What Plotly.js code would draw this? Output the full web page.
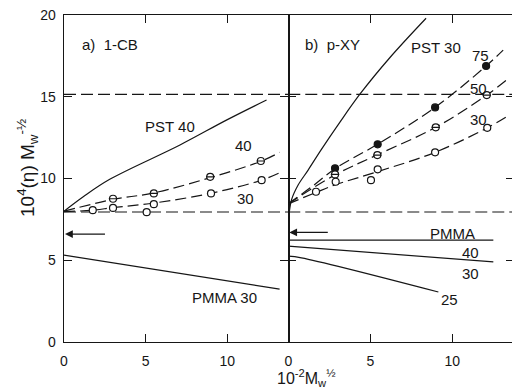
<!DOCTYPE html>
<html>
<head>
<meta charset="utf-8">
<script src="https://cdn.plot.ly/plotly-3.0.1.min.js"></script>
<style>
html,body{margin:0;padding:0;overflow:hidden;background:#fff;}
#chart{width:514px;height:390px;}
</style>
</head>
<body>
<div id="chart"></div>
<script>
// ---------- Data ----------
// Panel a) 1-CB
const a_pst40_x = [0, 1.2, 2.8, 7.1, 10.0, 12.4];
const a_pst40_y = [8.0, 8.9, 9.95, 12.05, 13.6, 14.8];

const a_s40_px = [3.0, 5.5, 8.95, 12.05];
const a_s40_py = [8.76, 9.09, 10.1, 11.07];
const a_s40_fx = [0, 3.0, 5.5, 8.95, 12.05, 13.2];
const a_s40_fy = [8.0, 8.72, 9.12, 10.05, 11.05, 11.6];

const a_s30_px = [1.76, 3.0, 5.06, 5.5, 9.0, 12.1];
const a_s30_py = [8.06, 8.2, 7.94, 8.43, 9.09, 9.9];
const a_s30_fx = [0, 1.76, 3.0, 5.5, 9.0, 12.1, 13.2];
const a_s30_fy = [7.98, 8.06, 8.22, 8.5, 9.1, 9.9, 10.35];

const a_pmma30_x = [0, 13.2];
const a_pmma30_y = [5.31, 3.23];

// Panel b) p-XY
const b_pst30_x = [0, 0.2, 0.6, 1.2, 2.0, 3.15, 4.4, 6.2, 8.4];
const b_pst30_y = [7.4, 8.7, 9.6, 10.5, 11.75, 13.45, 15.2, 17.4, 19.8];

const b_s75_px = [2.85, 5.45, 8.95, 12.06];
const b_s75_py = [10.62, 12.09, 14.35, 16.88];
const b_s75_fx = [0, 1.5, 2.85, 5.45, 8.95, 12.06, 13.1];
const b_s75_fy = [8.45, 9.55, 10.6, 12.1, 14.35, 16.88, 17.85];

const b_s50_px = [2.85, 5.43, 8.99, 12.1];
const b_s50_py = [10.25, 11.43, 13.13, 15.1];
const b_s50_fx = [0, 2.85, 5.43, 8.99, 12.1, 13.4];
const b_s50_fy = [8.45, 10.22, 11.45, 13.13, 15.1, 16.1];

const b_s30_px = [1.69, 2.89, 5.04, 5.45, 8.95, 12.13];
const b_s30_py = [9.19, 9.8, 9.9, 10.56, 11.6, 13.1];
const b_s30_fx = [0, 1.69, 2.89, 5.45, 8.95, 12.13, 13.5];
const b_s30_fy = [8.45, 9.15, 9.62, 10.42, 11.6, 13.1, 13.9];

const b_pmma40_x = [0, 12.5];
const b_pmma40_y = [6.23, 6.23];
const b_pmma30_x = [0, 12.5];
const b_pmma30_y = [5.86, 4.9];
const b_pmma25_x = [0, 0.8, 9.15];
const b_pmma25_y = [5.25, 5.15, 3.06];

// reference levels and arrows
const refLevels = [15.15, 7.95];
const xSpan = [0, 13.8];
const arrowA = {x0: 2.6, x1: 0, y: 6.6};
const arrowB = {x0: 2.5, x1: 0, y: 6.7};

// tick labels
const xTicks = [0, 5, 10];
const yTicks = [0, 5, 10, 15, 20];

// ---------- Styles ----------
const INK = '#161616';
const FONT = 'Liberation Sans, Arial, sans-serif';
const DASH = '11px,5px';
const MS = 7;

function line(x, y, xa, ya, dash) {
  return {x: x, y: y, xaxis: xa, yaxis: ya, mode: 'lines', type: 'scatter',
    line: {color: INK, width: 1.2, dash: dash || 'solid', shape: 'spline'},
    hoverinfo: 'skip'};
}
function pts(x, y, xa, ya, filled) {
  return {x: x, y: y, xaxis: xa, yaxis: ya, mode: 'markers', type: 'scatter',
    marker: {symbol: 'circle', size: MS, color: filled ? INK : '#fff',
             line: {color: INK, width: 1.2}}, hoverinfo: 'skip'};
}
function theta(x, y, xa, ya) {
  return [pts(x, y, xa, ya, false),
          {x: x, y: y, xaxis: xa, yaxis: ya, mode: 'markers', type: 'scatter',
           marker: {symbol: 'line-ew-open', size: MS - 1, color: INK,
                    line: {color: INK, width: 1.2}},
           hoverinfo: 'skip'}];
}

const traces = [];
// reference dashed levels
refLevels.forEach(function (lv) {
  traces.push(line(xSpan, [lv, lv], 'x', 'y', '12px,5px'));
  traces.push(line(xSpan, [lv, lv], 'x2', 'y2', '12px,5px'));
});
// panel a
traces.push(line(a_pst40_x, a_pst40_y, 'x', 'y'));
traces.push(line(a_s40_fx, a_s40_fy, 'x', 'y', DASH));
traces.push(line(a_s30_fx, a_s30_fy, 'x', 'y', DASH));
traces.push(line(a_pmma30_x, a_pmma30_y, 'x', 'y'));
theta(a_s40_px, a_s40_py, 'x', 'y').forEach(t => traces.push(t));
traces.push(pts(a_s30_px, a_s30_py, 'x', 'y', false));
// panel b
traces.push(line(b_pst30_x, b_pst30_y, 'x2', 'y2'));
traces.push(line(b_s75_fx, b_s75_fy, 'x2', 'y2', DASH));
traces.push(line(b_s50_fx, b_s50_fy, 'x2', 'y2', DASH));
traces.push(line(b_s30_fx, b_s30_fy, 'x2', 'y2', DASH));
traces.push(line(b_pmma40_x, b_pmma40_y, 'x2', 'y2'));
traces.push(line(b_pmma30_x, b_pmma30_y, 'x2', 'y2'));
traces.push(line(b_pmma25_x, b_pmma25_y, 'x2', 'y2'));
traces.push(pts(b_s75_px, b_s75_py, 'x2', 'y2', true));
theta(b_s50_px, b_s50_py, 'x2', 'y2').forEach(t => traces.push(t));
traces.push(pts(b_s30_px, b_s30_py, 'x2', 'y2', false));

const axisCommon = {
  showline: true, linecolor: INK, linewidth: 1.3, mirror: 'ticks',
  ticks: 'inside', ticklen: 8, tickwidth: 1.2, tickcolor: INK,
  showgrid: false, zeroline: false,
  tickfont: {family: FONT, size: 14, color: INK}
};

function lbl(text, x, y, xref, yref, size, xanchor) {
  return {text: text, x: x, y: y, xref: xref, yref: yref, showarrow: false,
    xanchor: xanchor || 'center', yanchor: 'middle',
    font: {family: FONT, size: size || 15, color: INK}};
}
function arrow(a, xref, yref) {
  return {x: a.x1, y: a.y, ax: a.x0, ay: a.y, xref: xref, yref: yref,
    axref: xref, ayref: yref, text: '', showarrow: true,
    arrowhead: 2, arrowsize: 1.3, arrowwidth: 1.2, arrowcolor: INK, standoff: 1};
}

const layout = {
  width: 514, height: 390,
  margin: {l: 64, r: 0, t: 15, b: 48},
  paper_bgcolor: '#fff', plot_bgcolor: '#fff',
  showlegend: false,
  xaxis: Object.assign({}, axisCommon, {domain: [0, 0.4984], range: [0, 13.73],
    tickvals: xTicks, ticktext: xTicks.map(String), anchor: 'y', ticklabelstandoff: 6}),
  xaxis2: Object.assign({}, axisCommon, {domain: [0.4984, 1], range: [0, 13.76],
    tickvals: xTicks, ticktext: xTicks.map(String), anchor: 'y2', ticklabelstandoff: 6}),
  yaxis: Object.assign({}, axisCommon, {range: [0, 20], tickvals: yTicks,
    ticktext: yTicks.map(String), anchor: 'x', ticklabelstandoff: 4}),
  yaxis2: Object.assign({}, axisCommon, {range: [0, 20], tickvals: yTicks,
    showline: false, showticklabels: false, anchor: 'x2'}),
  annotations: [
    lbl('a)  1-CB', 1.0, 18.2, 'x', 'y', 15, 'left'),
    lbl('PST 40', 6.5, 13.2, 'x', 'y'),
    lbl('40', 11.0, 12.0, 'x', 'y'),
    lbl('30', 11.1, 8.8, 'x', 'y'),
    lbl('PMMA 30', 9.8, 2.75, 'x', 'y'),
    lbl('b)  p-XY', 0.9, 18.2, 'x2', 'y2', 15, 'left'),
    lbl('PST 30', 9.0, 18.0, 'x2', 'y2'),
    lbl('75', 11.7, 17.55, 'x2', 'y2'),
    lbl('50', 11.6, 15.5, 'x2', 'y2'),
    lbl('30', 11.6, 13.6, 'x2', 'y2'),
    lbl('PMMA', 10.0, 6.65, 'x2', 'y2'),
    lbl('40', 11.1, 5.5, 'x2', 'y2'),
    lbl('30', 11.1, 4.2, 'x2', 'y2'),
    lbl('25', 9.8, 2.6, 'x2', 'y2'),
    arrow(arrowA, 'x', 'y'),
    arrow(arrowB, 'x2', 'y2'),
    {text: '10<sup>-2</sup>M<sub>w</sub><sup>½</sup>',
     x: (306 - 64) / 450, y: -(378 - 342) / 327, xref: 'paper', yref: 'paper',
     xanchor: 'center', yanchor: 'middle',
     showarrow: false, font: {family: FONT, size: 16, color: INK}},
    {text: '10<sup>4</sup>(η) M<sub>w</sub><sup>-½</sup>', textangle: -90,
     x: (27 - 64) / 450, y: (342 - 168) / 327, xref: 'paper', yref: 'paper',
     xanchor: 'center', yanchor: 'middle', showarrow: false,
     font: {family: FONT, size: 19, color: INK}}
  ]
};

Plotly.newPlot('chart', traces, layout, {staticPlot: true, displayModeBar: false});
</script>
</body>
</html>
